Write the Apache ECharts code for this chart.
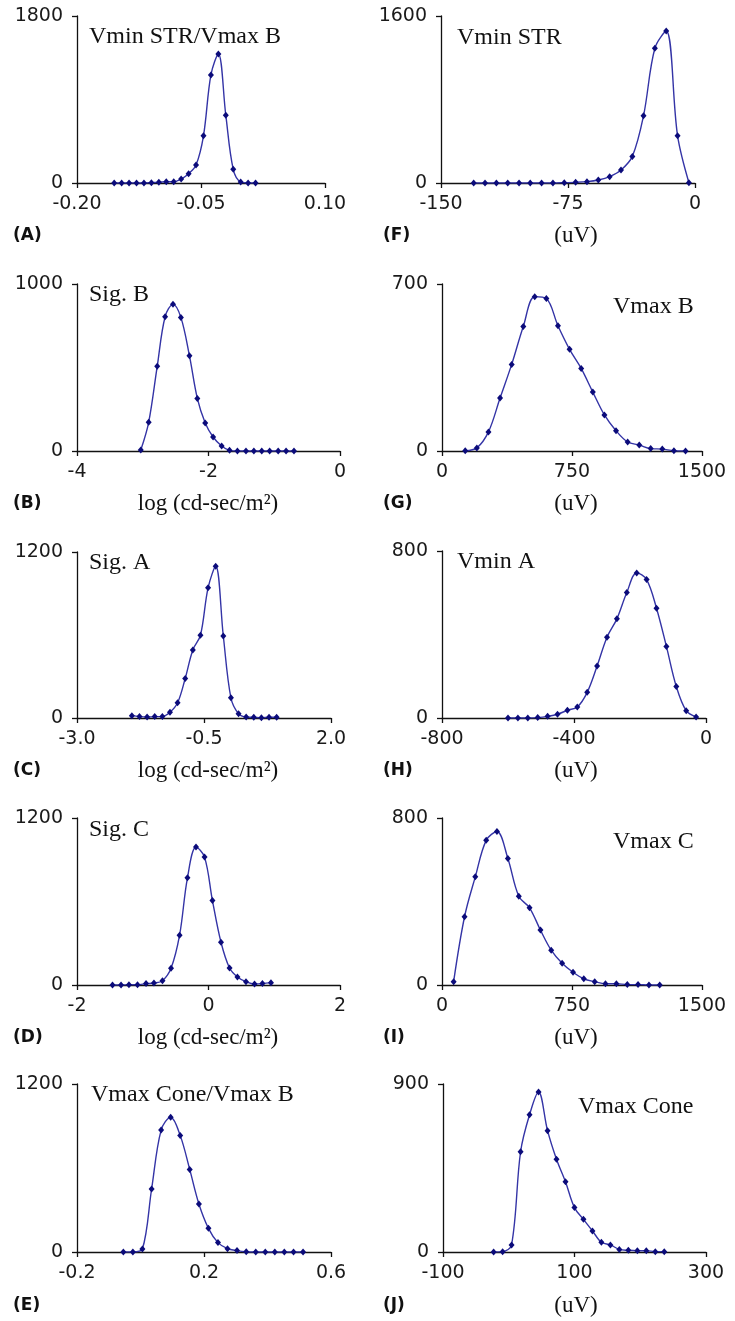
<!DOCTYPE html>
<html><head><meta charset="utf-8">
<script src="https://cdn.jsdelivr.net/npm/echarts@6/dist/echarts.min.js"></script>
<style>html,body{margin:0;padding:0;background:#fff}#c{width:735px;height:1321px}</style>
</head><body><div id="c"></div><script>
// ---------- DATA ----------
const xA = [-0.155,-0.146,-0.137,-0.128,-0.119,-0.110,-0.101,-0.092,-0.083,-0.074,-0.065,-0.056,-0.047,-0.038,-0.029,-0.020,-0.011,-0.002,0.007,0.016];
const yA = [0,0,0,0,0,4,7,14,14,43,100,194,509,1165,1391,731,147,11,0,0];
const xF = [-130.7,-124.0,-117.3,-110.6,-103.9,-97.3,-90.6,-83.9,-77.2,-70.5,-63.8,-57.1,-50.4,-43.7,-37.0,-30.4,-23.7,-17.0,-10.3,-3.6];
const yF = [0,0,0,0,0,0,0,0,3,6,13,29,61,124,255,644,1291,1456,453,3];
const xB = [-3.03,-2.91,-2.78,-2.66,-2.54,-2.42,-2.29,-2.17,-2.05,-1.93,-1.80,-1.68,-1.56,-1.43,-1.31,-1.19,-1.07,-0.94,-0.82,-0.70];
const yB = [6,172,507,804,878,800,571,315,168,84,30,4,0,0,0,0,0,0,0,0];
const xG = [134,201,268,335,402,469,535,602,669,736,803,870,937,1004,1071,1138,1204,1271,1338,1405];
const yG = [1,13,80,222,363,522,647,639,525,426,346,247,151,85,38,25,10,8,1,0];
const xC = [-1.92,-1.77,-1.62,-1.47,-1.32,-1.17,-1.02,-0.87,-0.72,-0.57,-0.42,-0.27,-0.12,0.03,0.18,0.33,0.48,0.63,0.78,0.93];
const yC = [17,10,7,10,10,41,110,286,492,598,941,1097,593,146,31,7,5,2,5,5];
const xH = [-600,-570,-540,-510,-480,-450,-420,-390,-360,-330,-300,-270,-240,-210,-180,-150,-120,-90,-60,-30];
const yH = [0,0,0,2,8,18,37,53,123,249,387,475,601,695,663,526,343,151,35,5];
const xD = [-1.46,-1.33,-1.21,-1.08,-0.95,-0.83,-0.70,-0.57,-0.44,-0.32,-0.19,-0.06,0.06,0.19,0.32,0.44,0.57,0.70,0.82,0.95];
const yD = [0,0,2,2,10,14,31,120,358,770,991,919,607,307,122,58,24,7,10,17];
const xI = [67,130,192,255,317,380,443,505,568,630,693,756,818,881,943,1006,1069,1131,1194,1256];
const yI = [16,327,518,693,735,606,425,370,263,167,104,61,30,16,6,6,2,2,0,0];
const xE = [-0.054,-0.024,0.006,0.035,0.065,0.095,0.125,0.155,0.184,0.214,0.244,0.274,0.304,0.333,0.363,0.393,0.423,0.453,0.482,0.512];
const yE = [0,0,21,450,871,962,833,590,343,169,67,24,10,2,0,0,0,0,0,0];
const xJ = [-23.0,-9.3,4.3,18.0,31.6,45.3,59.0,72.6,86.3,99.9,113.6,127.3,140.9,154.6,168.2,181.9,195.6,209.2,222.9,236.5];
const yJ = [0,2,38,537,735,857,650,497,376,238,175,113,52,38,14,9,7,7,2,2];

const xTicksA = [-0.2,-0.05,0.1];  const xLabelsA = ['-0.20','-0.05','0.10'];
const xTicksF = [-150,-75,0];      const xLabelsF = ['-150','-75','0'];
const xTicksB = [-4,-2,0];         const xLabelsB = ['-4','-2','0'];
const xTicksG = [0,750,1500];      const xLabelsG = ['0','750','1500'];
const xTicksC = [-3,-0.5,2];       const xLabelsC = ['-3.0','-0.5','2.0'];
const xTicksH = [-800,-400,0];     const xLabelsH = ['-800','-400','0'];
const xTicksD = [-2,0,2];          const xLabelsD = ['-2','0','2'];
const xTicksI = [0,750,1500];      const xLabelsI = ['0','750','1500'];
const xTicksE = [-0.2,0.2,0.6];    const xLabelsE = ['-0.2','0.2','0.6'];
const xTicksJ = [-100,100,300];    const xLabelsJ = ['-100','100','300'];

const yTicksA = [0,1800]; const yTicksF = [0,1600];
const yTicksB = [0,1000]; const yTicksG = [0,700];
const yTicksC = [0,1200]; const yTicksH = [0,800];
const yTicksD = [0,1200]; const yTicksI = [0,800];
const yTicksE = [0,1200]; const yTicksJ = [0,900];

const titleA = 'Vmin STR/Vmax B', titleF = 'Vmin STR', titleB = 'Sig. B', titleG = 'Vmax B',
      titleC = 'Sig. A', titleH = 'Vmin A', titleD = 'Sig. C', titleI = 'Vmax C',
      titleE = 'Vmax Cone/Vmax B', titleJ = 'Vmax Cone';
const unitLog = 'log (cd-sec/m²)';
const unitUV = '(uV)';

// ---------- LAYOUT ----------
const panels = [
  {id:'A', xs:xA, ys:yA, xt:xTicksA, xl:xLabelsA, yt:yTicksA, title:titleA, unit:null,
   grid:{left:77, top:16, width:248, height:167}, tpos:[89,37], letter:[13,236]},
  {id:'F', xs:xF, ys:yF, xt:xTicksF, xl:xLabelsF, yt:yTicksF, title:titleF, unit:unitUV,
   grid:{left:441, top:16, width:254, height:167}, tpos:[457,38], letter:[383,236]},
  {id:'B', xs:xB, ys:yB, xt:xTicksB, xl:xLabelsB, yt:yTicksB, title:titleB, unit:unitLog,
   grid:{left:77, top:284, width:263, height:167}, tpos:[89,295], letter:[13,504]},
  {id:'G', xs:xG, ys:yG, xt:xTicksG, xl:xLabelsG, yt:yTicksG, title:titleG, unit:unitUV,
   grid:{left:442, top:284, width:260, height:167}, tpos:[613,307], letter:[383,504]},
  {id:'C', xs:xC, ys:yC, xt:xTicksC, xl:xLabelsC, yt:yTicksC, title:titleC, unit:unitLog,
   grid:{left:77, top:552, width:254, height:166}, tpos:[89,563], letter:[13,771]},
  {id:'H', xs:xH, ys:yH, xt:xTicksH, xl:xLabelsH, yt:yTicksH, title:titleH, unit:unitUV,
   grid:{left:442, top:551, width:264, height:167}, tpos:[457,562], letter:[383,771]},
  {id:'D', xs:xD, ys:yD, xt:xTicksD, xl:xLabelsD, yt:yTicksD, title:titleD, unit:unitLog,
   grid:{left:77, top:818, width:263, height:167}, tpos:[89,830], letter:[13,1038]},
  {id:'I', xs:xI, ys:yI, xt:xTicksI, xl:xLabelsI, yt:yTicksI, title:titleI, unit:unitUV,
   grid:{left:442, top:818, width:260, height:167}, tpos:[613,842], letter:[383,1038]},
  {id:'E', xs:xE, ys:yE, xt:xTicksE, xl:xLabelsE, yt:yTicksE, title:titleE, unit:null,
   grid:{left:77, top:1084, width:254, height:168}, tpos:[91,1095], letter:[13,1306]},
  {id:'J', xs:xJ, ys:yJ, xt:xTicksJ, xl:xLabelsJ, yt:yTicksJ, title:titleJ, unit:unitUV,
   grid:{left:443, top:1084, width:263, height:168}, tpos:[578,1107], letter:[383,1306]}
];

const tickFont = {fontFamily:'DejaVu Sans', fontSize:19, color:'#1a1a1a'};
const axisLineStyle = {color:'#111', width:1.3};

const option = {animation:false, backgroundColor:'#fff', grid:[], xAxis:[], yAxis:[], series:[], graphic:[]};

panels.forEach((p, i) => {
  option.grid.push(Object.assign({containLabel:false}, p.grid));
  option.xAxis.push({
    type:'value', gridIndex:i, min:p.xt[0], max:p.xt[p.xt.length-1],
    axisLine:{show:true, onZero:false, lineStyle:axisLineStyle},
    axisTick:{show:true, inside:false, length:5, customValues:p.xt, lineStyle:axisLineStyle},
    axisLabel:Object.assign({show:true, margin:12, customValues:p.xt,
      formatter:(v)=>{const k=p.xt.findIndex(t=>Math.abs(t-v)<1e-9); return k>=0?p.xl[k]:'';}}, tickFont),
    splitLine:{show:false}
  });
  option.yAxis.push({
    type:'value', gridIndex:i, min:p.yt[0], max:p.yt[p.yt.length-1],
    axisLine:{show:true, onZero:false, lineStyle:axisLineStyle},
    axisTick:{show:true, inside:false, length:5, customValues:p.yt, lineStyle:axisLineStyle},
    axisLabel:Object.assign({show:true, margin:14, customValues:p.yt, formatter:(v)=>String(v)}, tickFont),
    splitLine:{show:false}
  });
  option.series.push({
    type:'line', xAxisIndex:i, yAxisIndex:i,
    data:p.xs.map((x,k)=>[x, p.ys[k]]),
    smooth:0.35, symbol:'diamond', symbolSize:[6,7],
    itemStyle:{color:'#0b0b7a'},
    lineStyle:{color:'#3434a6', width:1.4},
    z:3
  });
  option.graphic.push({
    type:'text', x:p.tpos[0], y:p.tpos[1],
    style:{text:p.title, font:'24px "Liberation Serif"', fill:'#111', align:'left', verticalAlign:'middle'}
  });
  option.graphic.push({
    type:'text', x:p.letter[0], y:p.letter[1],
    style:{text:'(' + p.id + ')', font:'bold 17px "DejaVu Sans"', fill:'#111', align:'left', verticalAlign:'middle'}
  });
  if (p.unit) {
    const cx = p.grid.left < 200 ? 208 : 576;
    option.graphic.push({
      type:'text', x:cx, y:p.letter[1],
      style:{text:p.unit, font:'23px "Liberation Serif"', fill:'#111', align:'center', verticalAlign:'middle'}
    });
  }
});

const chart = echarts.init(document.getElementById('c'), null, {renderer:'canvas'});
chart.setOption(option);
</script></body></html>
